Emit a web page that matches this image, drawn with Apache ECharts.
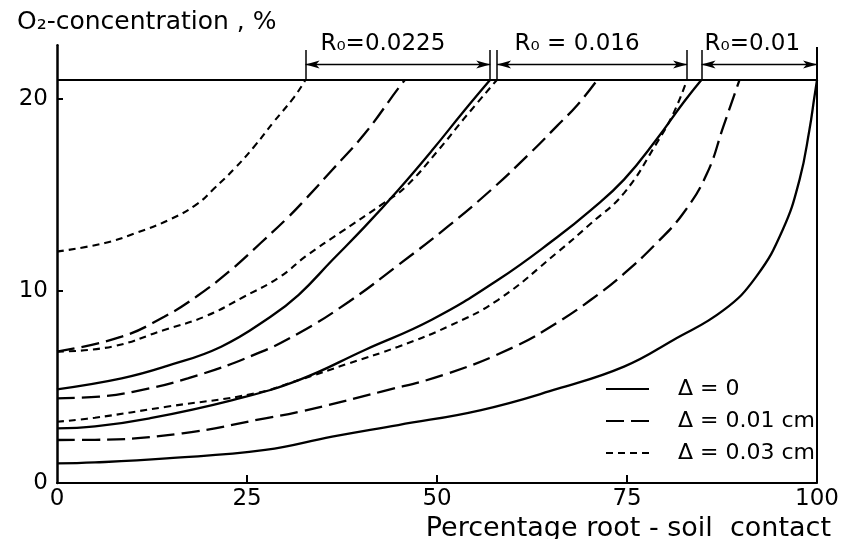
<!DOCTYPE html>
<html><head><meta charset="utf-8">
<script src="https://cdn.jsdelivr.net/npm/echarts@6/dist/echarts.min.js"></script>
<style>html,body{margin:0;padding:0;background:#fff}#c{width:842px;height:539px}</style>
</head><body><div id="c"></div>
<script>
// ---- data ----
const xTickLabels = [0, 25, 50, 75, 100];
const yTickLabels = [0, 10, 20];
const legendNames = ['Δ = 0', 'Δ = 0.01 cm', 'Δ = 0.03 cm'];

// R0 = 0.0225
const r0225_gap0   = [[0,4.88],[8.5,5.45],[14.5,6.1],[21.6,7.1],[28.1,8.66],[31.8,9.8],[36.2,11.6],[40.5,13.35],[44.9,15.26],[49.3,17.3],[53.6,19.4],[57.0,21]];
const r0225_gap001 = [[0,6.84],[8.5,7.62],[14.1,8.66],[18.5,9.75],[22.9,11.1],[26.8,12.5],[30.3,13.8],[32.5,14.7],[36.2,16.3],[40.5,18.2],[44.9,20.55],[45.8,21]];
const r0225_gap003 = [[0,12.05],[6.3,12.5],[10.6,13.05],[15.0,13.75],[18.5,14.55],[20.7,15.35],[23.3,16.35],[25.9,17.5],[28.5,18.8],[31.2,20.1],[32.7,21]];
// R0 = 0.016
const r016_gap0    = [[0,2.85],[5,2.95],[12.2,3.37],[23.1,4.32],[31.8,5.36],[40.5,6.93],[49.3,8.5],[58,10.57],[65.8,12.8],[70.2,14.2],[74.6,15.8],[78.9,17.9],[82.4,19.8],[84.8,21]];
const r016_gap001  = [[0,4.41],[5.6,4.5],[10,4.75],[17.2,5.45],[25.9,6.67],[31.8,7.8],[38.4,9.44],[44.9,11.35],[51.4,13.35],[57.1,15.26],[62.3,17.2],[65.8,18.6],[68.5,19.7],[71.1,21]];
const r016_gap003  = [[0,6.84],[7.2,7.1],[14.1,7.97],[19.4,8.66],[24.6,9.7],[29.4,10.75],[32.7,11.8],[37.5,13.1],[42.7,14.5],[45.8,15.4],[50.1,17.3],[53.6,19.0],[57.9,21]];
// R0 = 0.01
const r01_gap0     = [[0,1.02],[5,1.07],[14.4,1.28],[27.4,1.72],[36.2,2.41],[44.9,3.02],[55.8,3.8],[65.8,4.9],[74.6,6.06],[81.1,7.45],[87.7,9.0],[92,10.75],[95.5,13.2],[97.7,15.8],[99,18.4],[99.65,20.1],[100,21]];
const r01_gap001   = [[0,2.24],[5,2.25],[16.5,2.59],[27.4,3.37],[31.8,3.7],[42.7,4.76],[51.4,5.7],[60.2,7.1],[65.8,8.35],[70.2,9.53],[74.6,10.9],[78.9,12.5],[82.4,14.05],[85.5,16.1],[87.7,18.6],[89.8,21]];
const r01_gap003   = [[0,3.19],[5,3.4],[14.4,3.97],[26.1,4.67],[31.8,5.36],[38.4,6.23],[44.9,7.1],[51.4,8.14],[58,9.53],[65.8,12.0],[70.2,13.5],[74.6,15.1],[78.9,17.7],[81.1,19.25],[82.9,21]];

const ambientO2 = 21;
const bracketEdges = [[32.7, 57.0], [57.9, 82.9], [84.8, 100]];
const bracketLabels = ['R₀=0.0225', 'R₀ = 0.016', 'R₀=0.01'];
const bracketTicks = [32.7, 57.0, 57.9, 82.9, 84.8];
const bracketLevel = 21.8;
const bracketTickTop = 22.55;
const frameTop = 22.7;

// ---- styles ----
const FONT = 'DejaVu Sans';
const labelShift = [-15, -15, -7];
const styles = {
  'Δ = 0':       { type: 'solid', width: 2.3 },
  'Δ = 0.01 cm': { type: [18, 7], width: 2.3 },
  'Δ = 0.03 cm': { type: [7, 5], width: 2.1 }
};
function curve(name, data) {
  return {
    type: 'line', name: name, data: data, smooth: 0.45,
    symbol: 'none', showSymbol: false, silent: true, animation: false,
    lineStyle: Object.assign({ color: '#000' }, styles[name]),
    itemStyle: { color: '#000' }
  };
}

const markData = [];
markData.push([{ coord: [0, ambientO2] }, { coord: [100, ambientO2] }]);
markData.push([{ coord: [100, 0] }, { coord: [100, frameTop] }]);
bracketTicks.forEach(function (x) {
  markData.push([{ coord: [x, ambientO2], lineStyle: { width: 1.5 } }, { coord: [x, bracketTickTop] }]);
});
bracketEdges.forEach(function (e, i) {
  markData.push([
    { coord: [e[0], bracketLevel], symbol: 'arrow', lineStyle: { width: 1.4 },
      label: { show: true, formatter: bracketLabels[i], position: 'insideMiddleTop', distance: 9,
               offset: [labelShift[i], 0], color: '#000', fontFamily: FONT, fontSize: 23 } },
    { coord: [e[1], bracketLevel], symbol: 'arrow' }
  ]);
});

const series = [
  curve('Δ = 0', r0225_gap0),
  curve('Δ = 0.01 cm', r0225_gap001),
  curve('Δ = 0.03 cm', r0225_gap003),
  curve('Δ = 0', r016_gap0),
  curve('Δ = 0.01 cm', r016_gap001),
  curve('Δ = 0.03 cm', r016_gap003),
  curve('Δ = 0', r01_gap0),
  curve('Δ = 0.01 cm', r01_gap001),
  curve('Δ = 0.03 cm', r01_gap003),
  {
    type: 'line', name: 'frame', data: [], silent: true, animation: false,
    markLine: {
      silent: true, animation: false, symbol: ['none', 'none'], symbolSize: [6, 14],
      label: { show: false },
      lineStyle: { color: '#000', type: 'solid', width: 2 },
      data: markData
    }
  }
];

const chart = echarts.init(document.getElementById('c'), null, { renderer: 'canvas' });
chart.setOption({
  backgroundColor: '#fff',
  animation: false,
  textStyle: { fontFamily: FONT, color: '#000' },
  title: [
    { text: 'O₂-concentration , %', left: 12, top: 5,
      textStyle: { fontFamily: FONT, fontSize: 25, fontWeight: 'normal', color: '#000' } },
    { text: 'Percentage root - soil  contact', right: 6, top: 510,
      textStyle: { fontFamily: FONT, fontSize: 27, fontWeight: 'normal', color: '#000' } }
  ],
  grid: { left: 57, right: 21, top: 45.2, bottom: 56, containLabel: false },
  legend: {
    data: legendNames, orient: 'vertical', left: 605, top: 378, padding: 0,
    itemWidth: 43, itemHeight: 14, itemGap: 10,
    itemStyle: { color: 'rgba(0,0,0,0)', borderWidth: 0, opacity: 0 },
    textStyle: { fontFamily: FONT, fontSize: 22, color: '#000', padding: [0, 0, 0, 24], lineHeight: 20 },
    selectedMode: false
  },
  xAxis: {
    type: 'value', min: 0, max: 100, interval: 25,
    axisLine: { show: true, lineStyle: { color: '#000', width: 2 } },
    axisTick: { show: true, inside: true, length: 8, lineStyle: { color: '#000', width: 2 }, customValues: [25, 50, 75, 100] },
    axisLabel: { show: true, margin: 5, fontFamily: FONT, fontSize: 23, color: '#000', customValues: xTickLabels },
    splitLine: { show: false }
  },
  yAxis: {
    type: 'value', min: 0, max: 22.8, interval: 10,
    axisLine: { show: true, lineStyle: { color: '#000', width: 2.5 } },
    axisTick: { show: true, inside: true, length: 6, lineStyle: { color: '#000', width: 2 }, customValues: [10, 20] },
    axisLabel: { show: true, margin: 9, fontFamily: FONT, fontSize: 23, color: '#000', customValues: yTickLabels },
    splitLine: { show: false }
  },
  series: series
});
</script>
</body></html>
